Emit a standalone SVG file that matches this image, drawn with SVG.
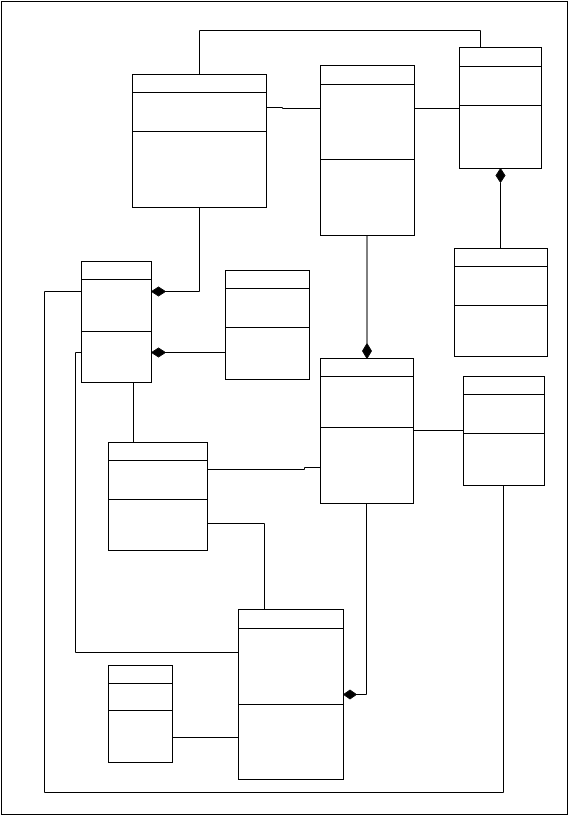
<svg xmlns="http://www.w3.org/2000/svg" width="569" height="815" viewBox="0 0 569 815">
<style>
.box{fill:#fff;stroke:#000;stroke-width:1}
.div{stroke:#000;stroke-width:1}
.ln{fill:none;stroke:#000;stroke-width:1}
.dia{fill:#000;stroke:#000;stroke-width:1}
</style>
<rect x="0" y="0" width="569" height="815" fill="#fff"/>
<rect x="1.5" y="1.5" width="566" height="813" class="ln"/>
<g id="connectors">
<path class="ln" d="M199.5,74.5 V30.5 H480.5 V47.5"/>
<path class="ln" d="M266.5,107.5 H282.5 V108.5 H320.5"/>
<path class="ln" d="M414.5,108.5 H459.5"/>
<path class="ln" d="M500.5,248.5 V182.5"/>
<polygon class="dia" points="500.5,168.5 505,175.5 500.5,182.5 496,175.5"/>
<path class="ln" d="M199.5,207.5 V291.5 H165"/>
<polygon class="dia" points="151.5,291.5 158.5,287 165.5,291.5 158.5,296"/>
<path class="ln" d="M225.5,352.5 H165"/>
<polygon class="dia" points="151.5,352.5 158.5,348 165.5,352.5 158.5,357"/>
<path class="ln" d="M367,235.5 V343.5"/>
<polygon class="dia" points="367,358.5 371.5,351 367,343.5 362.5,351"/>
<path class="ln" d="M413.5,430.5 H463.5"/>
<path class="ln" d="M133.5,382.5 V442.5"/>
<path class="ln" d="M207.5,469.5 H304.5 V467.5 H320.5"/>
<path class="ln" d="M207.5,523.5 H264.5 V609.5"/>
<path class="ln" d="M366.5,503.5 V694.5 H356"/>
<polygon class="dia" points="343.5,694.5 350,690 356.5,694.5 350,699"/>
<path class="ln" d="M81.5,352.5 H75.5 V652.5 H238.5"/>
<path class="ln" d="M81.5,291.5 H44.5 V792.5 H503.5 V485.5"/>
<path class="ln" d="M172.5,737.5 H238.5"/>
</g>
<g id="nodeA"><rect class="box" x="132.5" y="74.5" width="134" height="133"/><path class="div" d="M132.5,92.5 H266.5 M132.5,131.5 H266.5"/></g>
<g id="nodeB"><rect class="box" x="320.5" y="65.5" width="94" height="170"/><path class="div" d="M320.5,84.5 H414.5 M320.5,159.5 H414.5"/></g>
<g id="nodeC"><rect class="box" x="459.5" y="47.5" width="82" height="121"/><path class="div" d="M459.5,66.5 H541.5 M459.5,105.5 H541.5"/></g>
<g id="nodeD"><rect class="box" x="454.5" y="248.5" width="93" height="108"/><path class="div" d="M454.5,266.5 H547.5 M454.5,305.5 H547.5"/></g>
<g id="nodeE"><rect class="box" x="81.5" y="261.5" width="70" height="121"/><path class="div" d="M81.5,279.5 H151.5 M81.5,331.5 H151.5"/></g>
<g id="nodeF"><rect class="box" x="225.5" y="270.5" width="84" height="109"/><path class="div" d="M225.5,288.5 H309.5 M225.5,327.5 H309.5"/></g>
<g id="nodeG"><rect class="box" x="320.5" y="358.5" width="93" height="145"/><path class="div" d="M320.5,376.5 H413.5 M320.5,427.5 H413.5"/></g>
<g id="nodeH"><rect class="box" x="463.5" y="376.5" width="81" height="109"/><path class="div" d="M463.5,394.5 H544.5 M463.5,433.5 H544.5"/></g>
<g id="nodeI"><rect class="box" x="108.5" y="442.5" width="99" height="108"/><path class="div" d="M108.5,460.5 H207.5 M108.5,499.5 H207.5"/></g>
<g id="nodeJ"><rect class="box" x="238.5" y="609.5" width="105" height="170"/><path class="div" d="M238.5,628.5 H343.5 M238.5,704.5 H343.5"/></g>
<g id="nodeK"><rect class="box" x="108.5" y="665.5" width="64" height="97"/><path class="div" d="M108.5,683.5 H172.5 M108.5,710.5 H172.5"/></g>
</svg>
